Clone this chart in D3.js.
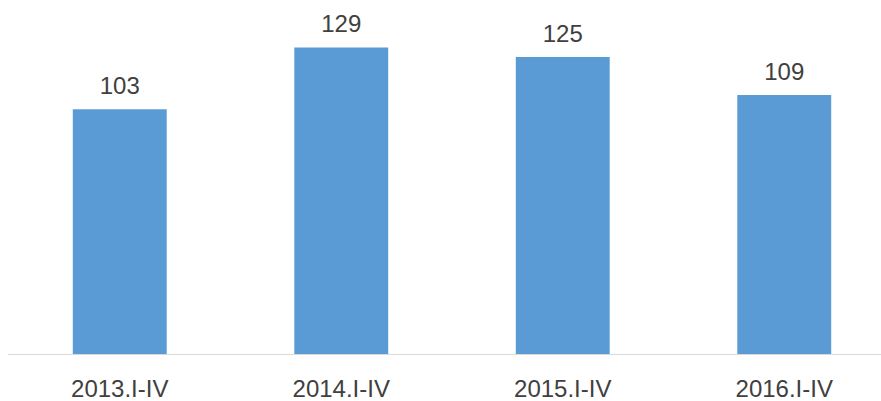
<!DOCTYPE html>
<html>
<head>
<meta charset="utf-8">
<script src="https://cdn.jsdelivr.net/npm/d3@7"></script>
<style>
  body { margin: 0; background: #fff; }
  svg { display: block; }
</style>
</head>
<body>
<div id="chart"></div>
<script>
var categories = ["2013.I-IV", "2014.I-IV", "2015.I-IV", "2016.I-IV"];
var values = [103, 129, 125, 109];

var width = 881, height = 401;
var baseline = 354; // y of the category axis
var plotLeft = 9, plotRight = 895;

var svg = d3.select("#chart").append("svg")
    .attr("width", width)
    .attr("height", height);

var x = d3.scaleBand()
    .domain(categories)
    .range([plotLeft, plotRight])
    .paddingInner(0.576)
    .paddingOuter(0.288);

var y = d3.scaleLinear()
    .domain([0, 140])
    .range([baseline, baseline - 140 * 2.376]);

// bars
svg.append("g").selectAll("rect").data(values).enter().append("rect")
    .attr("x", function (d, i) { return x(categories[i]); })
    .attr("y", function (d) { return y(d); })
    .attr("width", x.bandwidth())
    .attr("height", function (d) { return y(0) - y(d); })
    .attr("fill", "#5b9bd5");

// value labels
svg.append("g").selectAll("text").data(values).enter().append("text")
    .attr("x", function (d, i) { return x(categories[i]) + x.bandwidth() / 2; })
    .attr("y", function (d) { return y(d) - 15; })
    .attr("text-anchor", "middle")
    .attr("font-family", "'Liberation Sans', Arial, sans-serif")
    .attr("font-size", 24)
    .attr("fill", "#404040")
    .text(String);

// category axis line
svg.append("line")
    .attr("x1", 8)
    .attr("x2", width)
    .attr("y1", baseline + 0.5)
    .attr("y2", baseline + 0.5)
    .style("stroke", "#d9d9d9")
    .style("stroke-width", 1);

// category labels
svg.append("g").selectAll("text").data(categories).enter().append("text")
    .attr("x", function (d) { return x(d) + x.bandwidth() / 2; })
    .attr("y", 397)
    .attr("text-anchor", "middle")
    .attr("font-family", "'Liberation Sans', Arial, sans-serif")
    .attr("font-size", 24)
    .attr("fill", "#404040")
    .text(String);
</script>
</body>
</html>
